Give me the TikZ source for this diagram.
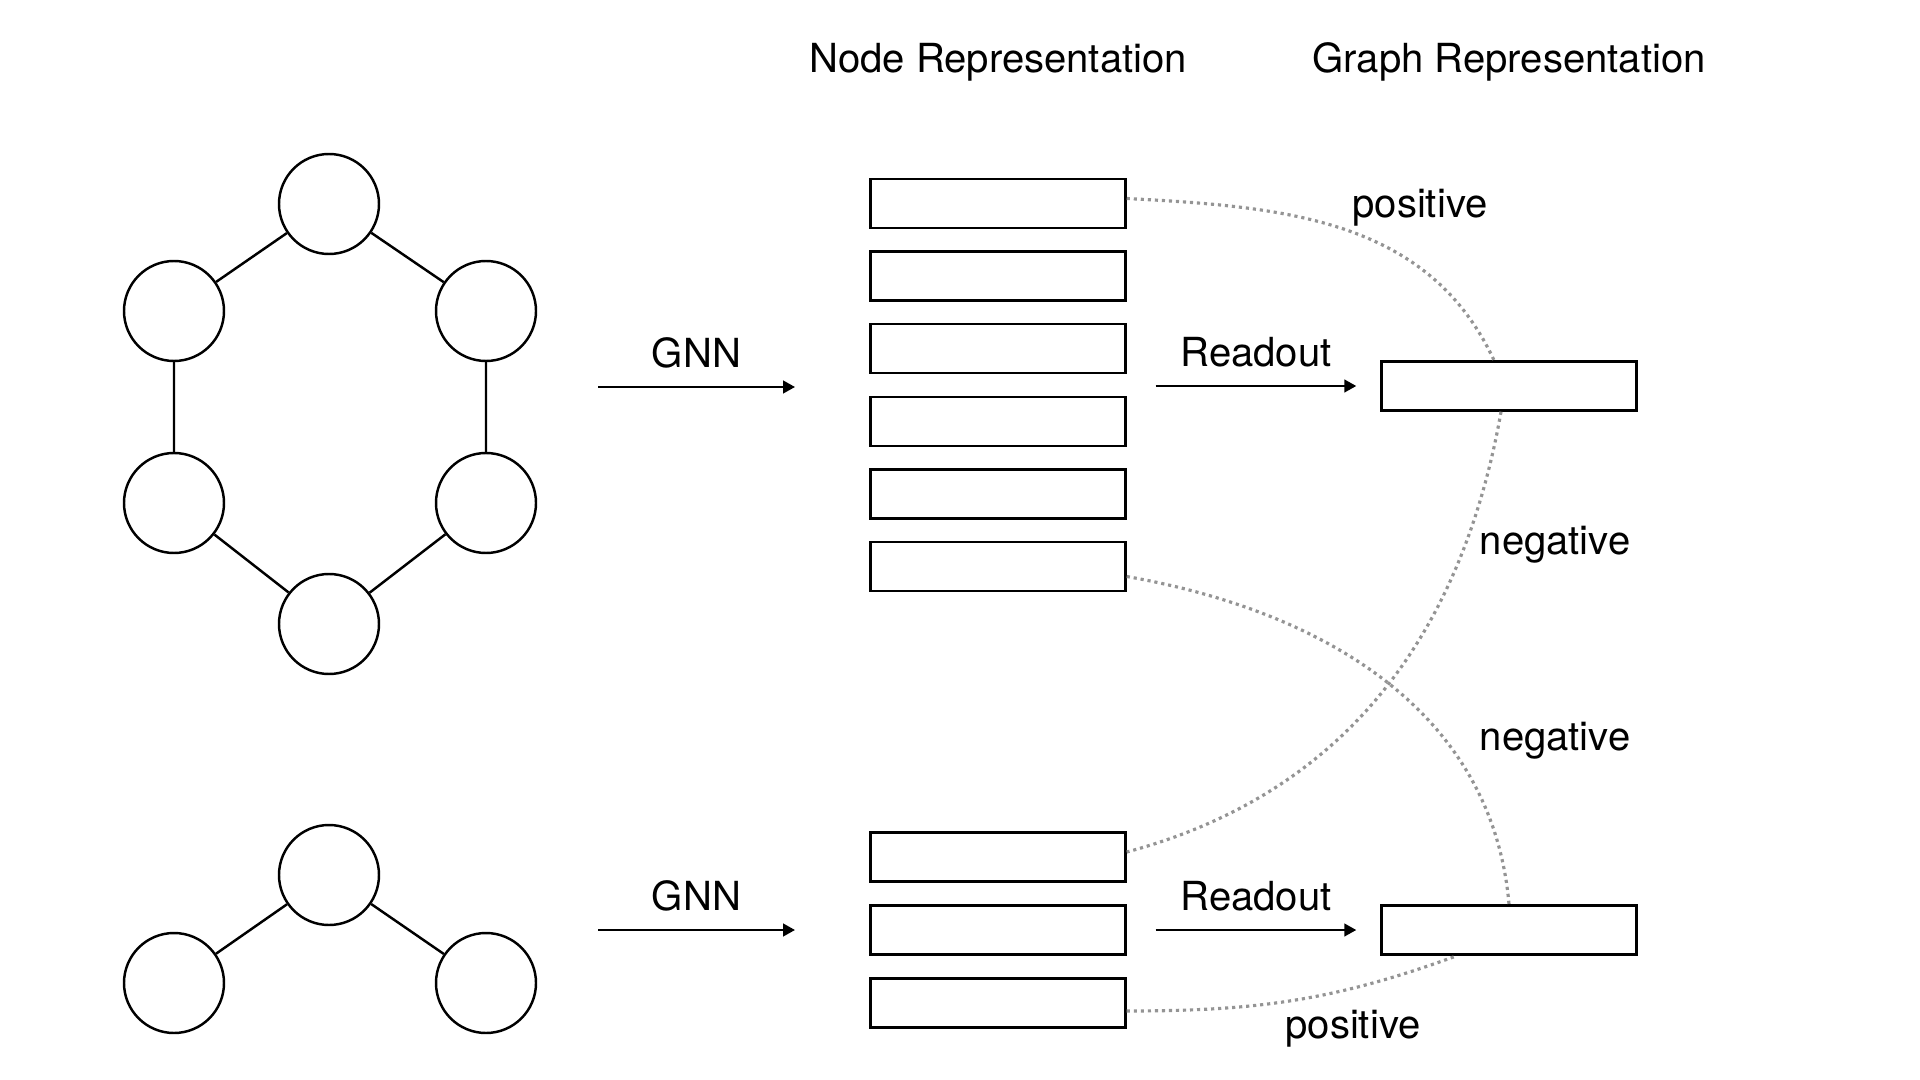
\documentclass[tikz,border=0pt]{standalone}
\usepackage{fontspec}
\setmainfont{TeX Gyre Heros}
\usetikzlibrary{arrows.meta,positioning}

\begin{document}
\begin{tikzpicture}[line width=0.7pt,>=Stealth,
  font=\fontsize{11.4}{13.5}\selectfont,
  vert/.style={circle,draw,minimum size=1cm,inner sep=0pt},
  repbox/.style={rectangle,draw,minimum width=2.55cm,minimum height=0.49cm,inner sep=0pt},
  flow/.style={line width=0.65pt,-{Triangle[length=3.4pt,width=3.6pt]}},
  pair/.style={draw=black!42,line width=0.9pt,dash pattern=on 0.9pt off 1.1pt}]
\useasboundingbox (0,0) rectangle (19.2,-10.8);

% input graphs
\node[vert] (a1) at (3.29,-2.04) {};
\node[vert] (a2) at (1.74,-3.11) {};
\node[vert] (a3) at (4.86,-3.11) {};
\node[vert] (a4) at (1.74,-5.03) {};
\node[vert] (a5) at (4.86,-5.03) {};
\node[vert] (a6) at (3.29,-6.24) {};
\draw (a1)--(a2) (a1)--(a3) (a2)--(a4) (a3)--(a5) (a4)--(a6) (a5)--(a6);
\node[vert] (b1) at (3.29,-8.75) {};
\node[vert] (b2) at (1.74,-9.83) {};
\node[vert] (b3) at (4.86,-9.83) {};
\draw (b1)--(b2) (b1)--(b3);

% node representations
\foreach \i in {1,...,6}
  \node[repbox] (n\i) at (9.98,{-2.035-0.726*(\i-1)}) {};
\foreach \i/\y in {1/8.57,2/9.30,3/10.03}
  \node[repbox] (m\i) at (9.98,-\y) {};

% graph representations
\node[repbox] (g1) at (15.09,-3.86) {};
\node[repbox] (g2) at (15.09,-9.30) {};

\node (tnode) at (9.98,-0.62) {Node Representation};
\node (tgraph) at (15.09,-0.62) {Graph Representation};

% GNN and readout steps
\coordinate (ga) at (5.98,-3.87);
\coordinate (gb) at (7.95,-3.87);
\coordinate (gc) at (5.98,-9.30);
\coordinate (gd) at (7.95,-9.30);
\draw[flow] (ga) -- node[above=0.6mm] (gnnA) {GNN} (gb);
\draw[flow] (gc) -- node[above=0.6mm] (gnnB) {GNN} (gd);
\draw[flow] ([xshift=2.9mm]n1.east |- g1) -- node[above=0.6mm] (rdA) {Readout} ([xshift=-2.4mm]g1.west);
\draw[flow] ([xshift=2.9mm]m2.east) -- node[above=0.6mm] (rdB) {Readout} ([xshift=-2.4mm]g2.west);

% contrastive pairs
\draw[pair] ([yshift=0.5mm]n1.east) to[out=-3,in=115] ([xshift=-1.5mm]g1.north);
\draw[pair] ([xshift=-0.8mm]g1.south) to[out=-100,in=15] ([yshift=0.5mm]m1.east);
\draw[pair] ([yshift=-1mm]n6.east) to[out=-10,in=95] (g2.north);
\draw[pair] ([yshift=-0.8mm]m3.east) to[out=0,in=-160] ([xshift=-5.2mm]g2.south);

\node (posA) at (14.20,-2.08) {positive};
\node (negA) at (15.55,-5.45) {negative};
\node (negB) at (15.55,-7.41) {negative};
\node (posB) at (13.53,-10.29) {positive};
\end{tikzpicture}
\end{document}
